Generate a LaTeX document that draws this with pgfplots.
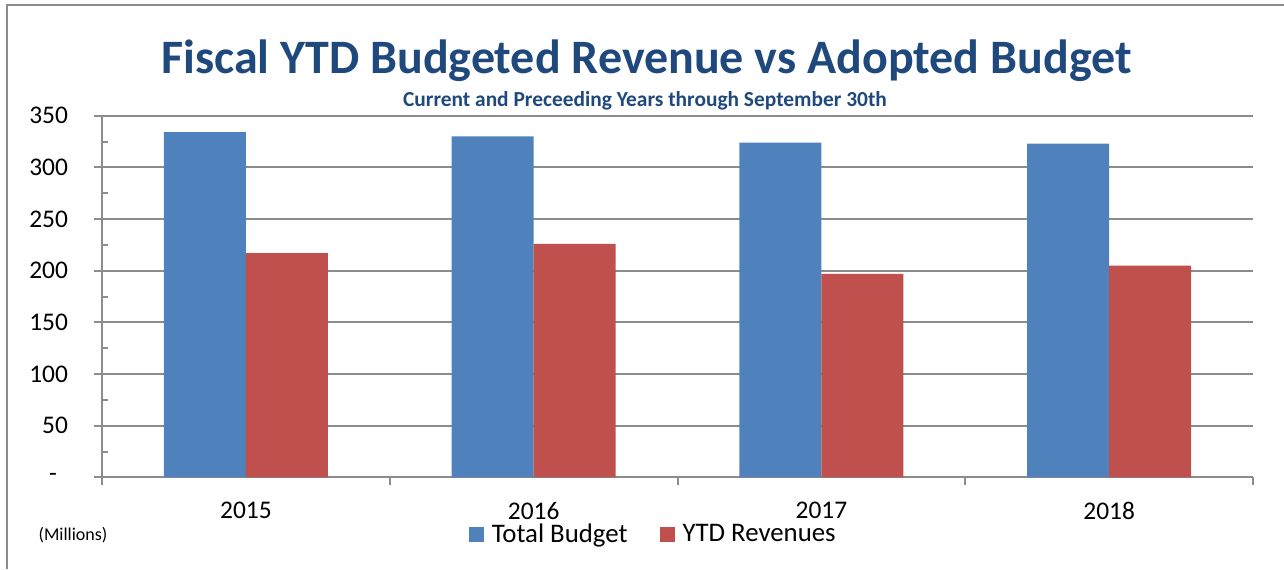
\documentclass[border=0pt]{standalone}
\usepackage{pgfplots}
\pgfplotsset{compat=1.18}
\usepackage{fontspec}
\setmainfont{Carlito}
\definecolor{barblue}{HTML}{4F81BD}
\definecolor{barred}{HTML}{C0504D}
\definecolor{titleblue}{HTML}{1F497D}
\definecolor{gridgray}{HTML}{8C8C8C}
\begin{document}
\begin{tikzpicture}
\begin{scope}[x=0.5pt,y=0.5pt]
\useasboundingbox (0,0) rectangle (1284,569);
\draw[gridgray, line width=1pt] (6.5,0) -- (6.5,563.5) -- (1284,563.5);
\node[text=titleblue, font=\fontsize{24}{28}\selectfont\bfseries] at (646.5,508) {Fiscal YTD Budgeted Revenue vs Adopted Budget};
\node[text=titleblue, font=\fontsize{10.7}{13}\selectfont\bfseries] at (645,468) {Current and Preceeding Years through September 30th};
\node[font=\fontsize{9}{11}\selectfont] at (73,34) {(Millions)};
\end{scope}
\begin{axis}[
  at={(51pt,45.8pt)}, anchor=south west,
  width=575.5pt, height=180.85pt, scale only axis,
  xmin=-0.5, xmax=3.5, ymin=0, ymax=350,
  ybar=0pt, bar width=41pt,
  axis x line*=bottom, axis y line*=left,
  axis line style={-, draw=gridgray, line width=1pt},
  tick align=outside, major tick length=4pt,
  tick style={draw=gridgray, line width=1pt},
  xtick={-0.5,0.5,1.5,2.5,3.5}, xticklabels={},
  extra x ticks={0,1,2,3},
  extra x tick labels={2015,2016,2017,2018},
  extra x tick style={major tick length=0pt, grid=none, xticklabel style={yshift=-9pt}},
  ytick={0,50,...,350},
  yticklabels={{-\kern5.5pt},50,100,150,200,250,300,350},
  yticklabel style={xshift=-9.5pt},
  extra y ticks={25,75,...,325},
  extra y tick labels={},
  extra y tick style={tick align=inside, major tick length=3pt, grid=none},
  ymajorgrids, grid style={draw=gridgray, line width=1pt},
  ticklabel style={font=\fontsize{12.7}{15}\selectfont},
  legend style={at={(0.4815,-0.157)}, anchor=center, draw=none, fill=none,
    font=\fontsize{13.4}{15}\selectfont, legend columns=2,
    /tikz/every even column/.append style={column sep=12pt},
    /tikz/every odd column/.append style={column sep=0pt},
    nodes={inner xsep=4pt}},
  legend image code/.code={\fill[#1] (0pt,-3.75pt) rectangle (7.5pt,3.75pt);},
]
\addplot[fill=barblue, draw=none] coordinates {(0,334) (1,330) (2,324) (3,323)};
\addplot[fill=barred, draw=none] coordinates {(0,217) (1,226) (2,197) (3,205)};
\legend{Total Budget, YTD Revenues}
\end{axis}
\end{tikzpicture}
\end{document}
